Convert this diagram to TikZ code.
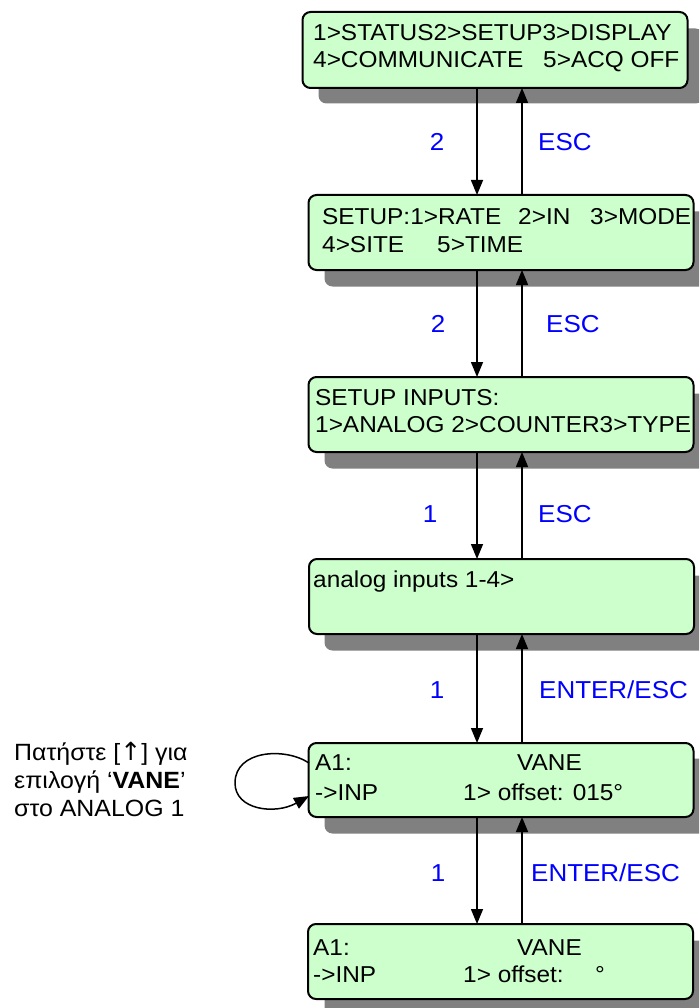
\documentclass[tikz,border=0pt]{standalone}
\usepackage{fontspec}
\setmainfont[FakeStretch=1.06]{Liberation Sans}
\newfontfamily\arrowfont{DejaVu Sans}
\usetikzlibrary{arrows.meta}
\definecolor{lcdgreen}{RGB}{204,255,204}
\definecolor{shadowgray}{RGB}{128,128,128}
\definecolor{keyblue}{RGB}{0,0,255}
\begin{document}
\begin{tikzpicture}[x=1pt,y=-1pt,
 lcd/.style={draw=black, line width=2pt, fill=lcdgreen, rounded corners=8pt, inner sep=0pt, outer sep=0pt, minimum width=385pt, minimum height=75pt},
 shade/.style={fill=shadowgray, draw=none, rounded corners=8pt, inner sep=0pt, outer sep=0pt, minimum width=385pt, minimum height=75pt},
 txt/.style={anchor=base west, inner sep=0pt, font=\fontsize{23}{27}\selectfont},
 note/.style={anchor=base west, inner sep=0pt, font=\fontsize{23.5}{28}\selectfont},
 keynum/.style={anchor=base, text=keyblue, inner sep=0pt, font=\fontsize{24.5}{29}\selectfont},
 keytxt/.style={anchor=base west, text=keyblue, inner sep=0pt, font=\fontsize{24.5}{29}\selectfont},
 arr/.style={line width=1.5pt, -{Triangle[width=12pt,length=15pt]}},
]
\useasboundingbox (0,0) rectangle (699,1008);
\clip (0,0) rectangle (699,1008);
% shadows
\node[shade] (s1) at (511,66) {};
\node[shade] (s2) at (517,249) {};
\node[shade] (s3) at (517,431) {};
\node[shade] (s4) at (517,613) {};
\node[shade] (s5) at (517,796) {};
\node[shade] (s6) at (517,978) {};
% boxes
\node[lcd, minimum height=76pt] (b1) at (495,50) {};
\node[lcd] (b2) at (501,232.5) {};
\node[lcd] (b3) at (501,414.5) {};
\node[lcd] (b4) at (501.5,596.5) {};
\node[lcd, minimum height=74pt] (b5) at (501,780) {};
\node[lcd] (b6) at (500.5,961.5) {};
% box texts
\node[txt] (t1a) at (313,41) {1>STATUS2>SETUP3>DISPLAY};
\node[txt] (t1b) at (313,68) {4>COMMUNICATE};
\node[txt] (t1c) at (543,68) {5>ACQ OFF};
\node[txt] (t2a) at (322,225) {SETUP:1>RATE};
\node[txt] (t2b) at (518,225) {2>IN};
\node[txt] (t2c) at (590,225) {3>MODE};
\node[txt] (t2d) at (322,252) {4>SITE};
\node[txt] (t2e) at (437,252) {5>TIME};
\node[txt] (t3a) at (315,405) {SETUP INPUTS:};
\node[txt] (t3b) at (315,432) {1>ANALOG 2>COUNTER3>TYPE};
\node[txt] (t4a) at (313,587) {analog inputs 1-4>};
\node[txt] (t5a) at (315,770) {A1:};
\node[txt] (t5b) at (517,770) {VANE};
\node[txt] (t5c) at (315,800) {->INP};
\node[txt] (t5d) at (463,800) {1> offset: 015°};
\node[txt] (t6a) at (313,955) {A1:};
\node[txt] (t6b) at (517,955) {VANE};
\node[txt] (t6c) at (313,982) {->INP};
\node[txt] (t6d) at (463,982) {1> offset:};
\node[txt] (t6e) at (595,982) {°};
% connectors
\coordinate (dx) at (477,0);
\coordinate (ux) at (522,0);
\foreach \a/\b in {b1/b2,b2/b3,b3/b4,b4/b5,b5/b6}{
  \draw[arr] (\a.south -| dx) -- (\b.north -| dx);
  \draw[arr] (\b.north -| ux) -- (\a.south -| ux);
}
% key labels
\node[keynum] (k1) at (437,151) {2};
\node[keytxt] (e1) at (538,151) {ESC};
\node[keynum] (k2) at (438,332) {2};
\node[keytxt] (e2) at (546,332) {ESC};
\node[keynum] (k3) at (430,522) {1};
\node[keytxt] (e3) at (538,522) {ESC};
\node[keynum] (k4) at (437,698) {1};
\node[keytxt] (e4) at (539,698) {ENTER/ESC};
\node[keynum] (k5) at (438,881) {1};
\node[keytxt] (e5) at (531,881) {ENTER/ESC};
% self loop
\coordinate (la) at (309,763);
\coordinate (lm) at (235,783);
\coordinate (lb) at (309,796);
\draw[arr] (la) .. controls (285,747) and (235,750) .. (lm)
               .. controls (235,810) and (275,815) .. (lb);
% note
\node[note] (g1) at (14,760) {Πατήστε [{\arrowfont\fontsize{25}{28}\selectfont ↑}] για};
\node[note] (g2) at (14,788) {επιλογή ‘\textbf{VANE}’};
\node[note] (g3) at (14,816) {στο ANALOG 1};
\end{tikzpicture}
\end{document}
